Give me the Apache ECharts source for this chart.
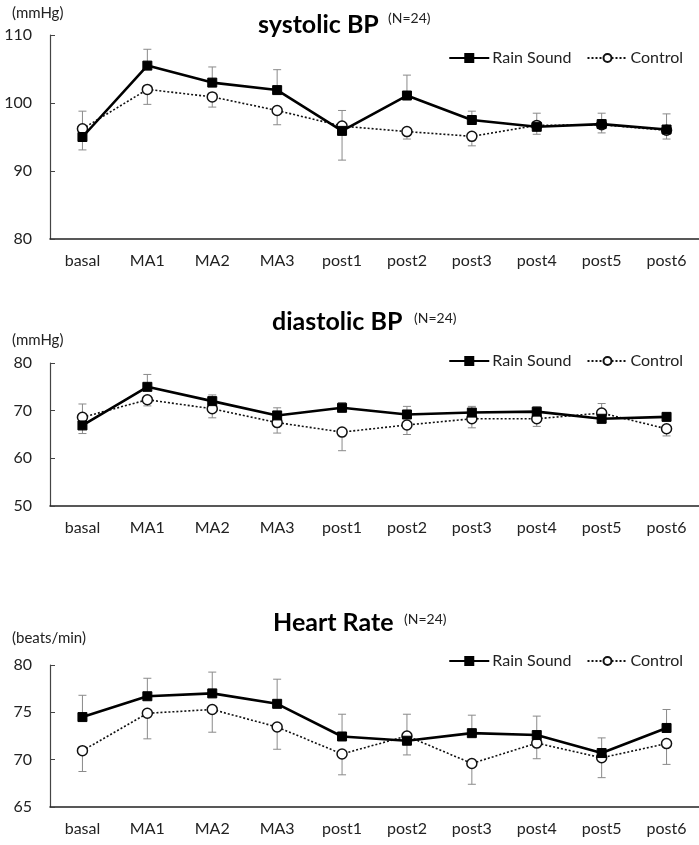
<!DOCTYPE html>
<html>
<head>
<meta charset="utf-8">
<script src="https://cdn.jsdelivr.net/npm/echarts@6/dist/echarts.min.js"></script>
<style>html,body{margin:0;padding:0;background:#fff;}#c{width:699px;height:845px;}</style>
</head>
<body>
<div id="c"></div>
<script>
var categories = ['basal','MA1','MA2','MA3','post1','post2','post3','post4','post5','post6'];

// systolic BP (mmHg)
var sbpRain = [95.0, 105.5, 103.0, 101.9, 95.9, 101.1, 97.5, 96.5, 96.9, 96.1];
var sbpCtrl = [96.2, 102.0, 100.9, 98.9, 96.6, 95.8, 95.1, 96.7, 96.8, 96.0];
// signed error bars (+ drawn upward, - drawn downward)
var sbpRainErr = [-1.9, 2.4, 2.3, 3.0, -4.3, 3.0, 1.3, -1.1, 1.6, 2.3];
var sbpCtrlErr = [2.6, -2.2, -1.5, -2.1, 2.3, -1.1, -1.4, 1.8, -1.2, -1.3];

// diastolic BP (mmHg)
var dbpRain = [66.9, 75.0, 72.0, 69.0, 70.6, 69.2, 69.6, 69.8, 68.3, 68.7];
var dbpCtrl = [68.6, 72.3, 70.4, 67.5, 65.5, 67.0, 68.3, 68.3, 69.5, 66.2];
var dbpRainErr = [-1.7, 2.6, 1.3, 1.6, 1.1, 1.7, 1.3, 1.0, -1.0, 0.9];
var dbpCtrlErr = [2.8, -1.3, -1.9, -2.2, -3.9, -2.0, -1.9, -1.6, 2.0, -1.5];

// heart rate (beats/min)
var hrRain = [74.5, 76.7, 77.0, 75.9, 72.45, 72.0, 72.8, 72.6, 70.7, 73.35];
var hrCtrl = [70.95, 74.9, 75.3, 73.45, 70.6, 72.5, 69.6, 71.75, 70.2, 71.7];
var hrRainErr = [2.3, 1.9, 2.25, 2.6, 2.35, -1.5, 1.9, 2.0, 1.6, 1.95];
var hrCtrlErr = [-2.2, -2.7, -2.4, -2.35, -2.2, 2.3, -2.2, -1.65, -2.1, -2.2];

var yMin = [80, 50, 65];
var yMax = [110, 80, 80];
var yStep = [10, 10, 5];
var titles = ['systolic BP', 'diastolic BP', 'Heart Rate'];
var units = ['(mmHg)', '(mmHg)', '(beats/min)'];
var nLabel = '(N=24)';

var FONT = 'Lato, "Open Sans", sans-serif';
var panels = [
  {rain: sbpRain, ctrl: sbpCtrl, rErr: sbpRainErr, cErr: sbpCtrlErr, top: 35, h: 204, unitY: 13, titleX: 258, titleY: 25, nX: 388, nY: 18, legY: 52},
  {rain: dbpRain, ctrl: dbpCtrl, rErr: dbpRainErr, cErr: dbpCtrlErr, top: 363, h: 143, unitY: 340, titleX: 272, titleY: 322, nX: 414, nY: 318, legY: 355},
  {rain: hrRain, ctrl: hrCtrl, rErr: hrRainErr, cErr: hrCtrlErr, top: 665, h: 142, unitY: 638, titleX: 273, titleY: 623, nX: 404, nY: 619, legY: 655}
];

function errData(vals, errs) {
  return vals.map(function (v, i) { return [i, v, v + errs[i]]; });
}
function renderErr(params, api) {
  var x = api.value(0), v = api.value(1), e = api.value(2);
  var p0 = api.coord([x, v]);
  var p1 = api.coord([x, e]);
  var style = {stroke: '#8a8a8a', lineWidth: 1};
  return {
    type: 'group',
    children: [
      {type: 'line', shape: {x1: p0[0], y1: p0[1], x2: p1[0], y2: p1[1]}, style: style},
      {type: 'line', shape: {x1: p1[0] - 4, y1: p1[1], x2: p1[0] + 4, y2: p1[1]}, style: style}
    ]
  };
}

var grid = [], xAxis = [], yAxis = [], series = [], legend = [], graphic = [];
panels.forEach(function (p, k) {
  grid.push({left: 50, right: -11, top: p.top, height: p.h});
  xAxis.push({
    type: 'category', gridIndex: k, data: categories, boundaryGap: true,
    axisLine: {lineStyle: {color: '#222', width: 1.5}},
    axisTick: {show: false},
    axisLabel: {color: '#222', fontSize: 16, fontFamily: FONT, margin: 14, interval: 0},
    splitLine: {show: false}
  });
  yAxis.push({
    type: 'value', gridIndex: k, min: yMin[k], max: yMax[k], interval: yStep[k],
    axisLine: {show: true, lineStyle: {color: '#444', width: 1.2}},
    axisTick: {show: true, inside: true, length: 5, lineStyle: {color: '#444'}},
    axisLabel: {color: '#222', fontSize: 16, fontFamily: FONT, margin: 18},
    splitLine: {show: false}
  });
  series.push({
    type: 'custom', name: 'errR' + k, xAxisIndex: k, yAxisIndex: k, z: 1,
    renderItem: renderErr, data: errData(p.rain, p.rErr), silent: true
  });
  series.push({
    type: 'custom', name: 'errC' + k, xAxisIndex: k, yAxisIndex: k, z: 1,
    renderItem: renderErr, data: errData(p.ctrl, p.cErr), silent: true
  });
  series.push({
    type: 'line', name: 'Control', xAxisIndex: k, yAxisIndex: k, z: 3,
    data: p.ctrl, symbol: 'circle', symbolSize: 10,
    lineStyle: {color: '#111', width: 1.6, type: [2, 2]},
    itemStyle: {color: '#fff', borderColor: '#111', borderWidth: 1.5},
    animation: false
  });
  series.push({
    type: 'line', name: 'Rain Sound', xAxisIndex: k, yAxisIndex: k, z: 4,
    data: p.rain, symbol: 'rect', symbolSize: 9,
    lineStyle: {color: '#000', width: 2.6},
    itemStyle: {color: '#000', borderColor: '#000', borderWidth: 1},
    animation: false
  });
  legend.push({
    data: ['Rain Sound', 'Control'], right: 11, top: p.legY - 7,
    itemWidth: 40, itemHeight: 10, itemGap: 15,
    textStyle: {color: '#222', fontSize: 16, fontFamily: FONT, padding: [0, 0, 0, -2]},
    selectedMode: false
  });
  graphic.push({type: 'text', x: 12, y: p.unitY,
    style: {text: units[k], fill: '#222', font: '15px ' + FONT, textVerticalAlign: 'middle'}});
  graphic.push({type: 'text', x: p.titleX, y: p.titleY,
    style: {text: titles[k], fill: '#000', font: 'bold 25px ' + FONT, textVerticalAlign: 'middle'}});
  graphic.push({type: 'text', x: p.nX, y: p.nY,
    style: {text: nLabel, fill: '#222', font: '14px ' + FONT, textVerticalAlign: 'middle'}});
});

var chart = echarts.init(document.getElementById('c'), null, {renderer: 'canvas'});
chart.setOption({
  animation: false,
  backgroundColor: '#fff',
  grid: grid, xAxis: xAxis, yAxis: yAxis, series: series, legend: legend, graphic: graphic
});
</script>
</body>
</html>
